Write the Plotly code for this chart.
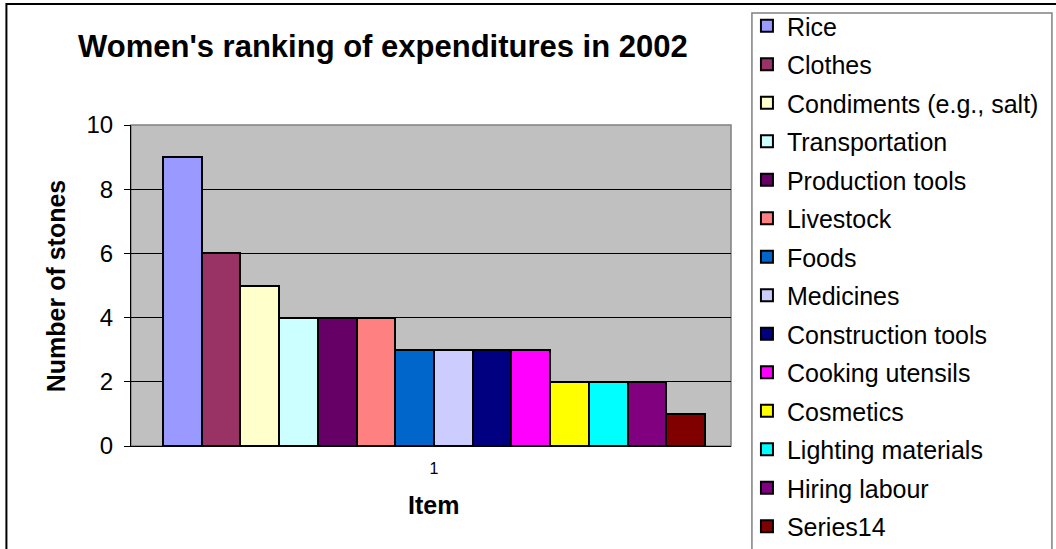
import plotly.graph_objects as go

series_names = ["Rice", "Clothes", "Condiments (e.g., salt)", "Transportation",
                "Production tools", "Livestock", "Foods", "Medicines",
                "Construction tools", "Cooking utensils", "Cosmetics",
                "Lighting materials", "Hiring labour", "Series14"]
series_values = [9, 6, 5, 4, 4, 4, 3, 3, 3, 3, 2, 2, 2, 1]
series_colors = ["#9999FF", "#993366", "#FFFFCC", "#CCFFFF", "#660066", "#FF8080",
                 "#0066CC", "#CCCCFF", "#000080", "#FF00FF", "#FFFF00", "#00FFFF",
                 "#800080", "#800000"]
category = [1]
tick_labels = ["1"]
y_ticks = [0, 2, 4, 6, 8, 10]

W, H = 1056, 549
L, R, T, B = 131, 733, 125, 446
FONT = "Liberation Sans, Arial, sans-serif"

def px(x):
    return (x - L) / (R - L)

def py(y):
    return (B - y) / (B - T)

fig = go.Figure()
for name, val, col in zip(series_names, series_values, series_colors):
    fig.add_trace(go.Bar(
        x=category, y=[val], name=name, legendgroup=name,
        marker=dict(color=col, line=dict(color="black", width=2)),
    ))

fig.update_layout(
    width=W, height=H,
    margin=dict(l=L, r=W - R, t=T, b=H - B, pad=0),
    paper_bgcolor="white", plot_bgcolor="#C0C0C0",
    barmode="group", bargap=0, bargroupgap=0,
    font=dict(family=FONT, color="black"),
    showlegend=True,
    legend=dict(
        x=px(749), xanchor="left", y=py(18), yanchor="top",
        font=dict(size=25, family=FONT, color="black"),
        bgcolor="rgba(0,0,0,0)", borderwidth=0,
        tracegroupgap=3, traceorder="grouped", maxheight=1000,
    ),
    xaxis=dict(
        range=[0.4412, 1.5478], tickvals=category, ticktext=tick_labels,
        tickfont=dict(size=16), ticks="", showgrid=False, zeroline=False,
        showline=True, linecolor="black", linewidth=1, ticklabelstandoff=8,
    ),
    yaxis=dict(
        range=[0, 10], tickvals=y_ticks, tickfont=dict(size=24),
        ticks="outside", ticklen=6, tickcolor="black", ticklabelstandoff=6,
        showgrid=True, gridcolor="black", gridwidth=1, zeroline=False,
        showline=True, linecolor="black", linewidth=1,
    ),
    shapes=[
        dict(type="rect", xref="paper", yref="paper", x0=0, x1=1, y0=0, y1=1,
             line=dict(color="#808080", width=1.5), layer="below"),
        dict(type="rect", xref="paper", yref="paper", x0=px(754), x1=px(1055),
             y0=py(600), y1=py(13), line=dict(color="#808080", width=1.5)),
        dict(type="rect", xref="paper", yref="paper", x0=px(6), x1=px(1100),
             y0=py(600), y1=py(4), line=dict(color="black", width=2)),
    ],
    annotations=[
        dict(text="<b>Women's ranking of expenditures in 2002</b>", xref="paper", yref="paper",
             x=px(384), y=py(46), xanchor="center", yanchor="middle", showarrow=False,
             font=dict(size=31, family=FONT)),
        dict(text="<b>Number of stones</b>", xref="paper", yref="paper",
             x=px(56), y=py(286), xanchor="center", yanchor="middle", showarrow=False,
             textangle=-90, font=dict(size=25, family=FONT)),
        dict(text="<b>Item</b>", xref="paper", yref="paper",
             x=px(435), y=py(505), xanchor="center", yanchor="middle", showarrow=False,
             font=dict(size=25, family=FONT)),
    ],
)

fig.write_html("out.html")
